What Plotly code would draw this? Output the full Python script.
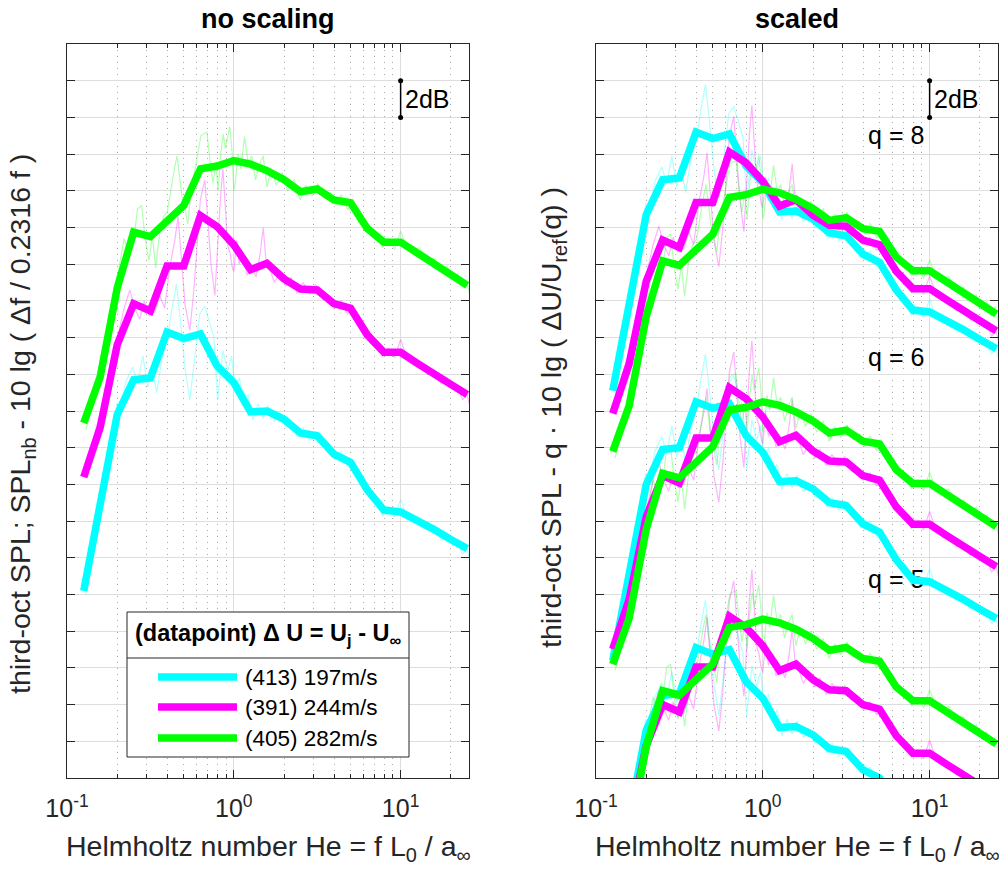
import numpy as np
import plotly.graph_objects as go

W, H = 999, 873

# ---------------- data ----------------
# third-octave band centres (Helmholtz number)
he_oct = [0.126, 0.158, 0.2, 0.251, 0.316, 0.398, 0.501, 0.631, 0.794, 1.0, 1.26, 1.58,
          2.0, 2.51, 3.16, 3.98, 5.01, 6.31, 7.94, 10.0, 12.6, 15.8, 20.0, 25.1]

# third-octave SPL per datapoint [dB, relative]
oct_413 = [10.2, 15.0, 19.8, 21.7, 21.8, 24.3, 23.95, 24.2, 22.45, 21.55, 19.95, 20.0,
           19.55, 18.8, 18.65, 17.65, 17.2, 15.7, 14.6, 14.5, 14.05, 13.55, 13.0, 12.5]
oct_391 = [16.4, 19.1, 23.6, 25.85, 25.45, 27.9, 27.9, 30.65, 30.05, 29.05, 27.7, 28.05,
           27.2, 26.65, 26.6, 25.85, 25.6, 24.15, 23.2, 23.2, 22.6, 22.0, 21.45, 20.9]
oct_405 = [19.35, 21.85, 26.7, 29.75, 29.5, 30.4, 31.2, 33.2, 33.35, 33.65, 33.45, 33.1,
           32.6, 31.95, 32.1, 31.5, 31.35, 29.95, 29.2, 29.2, 28.6, 28.05, 27.45, 26.85]

# normalised narrow-band spectra
nb_he_413 = [0.13, 0.145, 0.16, 0.175, 0.19, 0.198, 0.21, 0.225, 0.248, 0.265, 0.285, 0.305,
             0.325, 0.345, 0.37, 0.40, 0.425, 0.453, 0.48, 0.51, 0.545, 0.58, 0.625, 0.67,
             0.71, 0.76, 0.80, 0.86, 0.92, 0.97, 1.02, 1.08, 1.15, 1.22, 1.3, 1.4, 1.5, 1.6,
             1.75, 1.9, 2.05, 2.2, 2.4, 2.6, 2.85, 3.1, 3.4, 3.7, 4.0, 4.4, 4.8, 5.2, 5.6,
             6.1, 6.6, 7.2, 7.8, 8.5, 9.2, 10.0, 10.8, 11.8, 13.0, 14.5, 16.0, 17.5, 19.0,
             20.5, 22.0, 23.5, 25.0, 26.0]
nb_413 = [10.0, 12.8, 15.4, 17.5, 19.0, 20.4, 20.0, 21.6, 22.4, 21.5, 23.0, 21.3,
          22.2, 21.0, 22.8, 24.0, 25.5, 26.9, 24.8, 22.3, 20.6, 22.8, 25.3, 25.7,
          24.9, 24.0, 20.6, 23.3, 22.2, 23.0, 21.1, 21.8, 20.5, 20.9, 19.5, 20.4, 19.6, 20.3,
          19.4, 19.9, 19.1, 19.5, 18.6, 19.1, 18.4, 18.9, 18.1, 18.2, 17.4, 17.8, 17.0, 17.1, 16.2,
          16.0, 15.2, 15.1, 14.3, 14.7, 14.2, 15.2, 14.3, 14.0, 14.1, 13.5, 13.6, 13.0, 13.3,
          12.7, 12.9, 12.2, 12.5, 11.9]

nb_he_391 = [0.13, 0.145, 0.16, 0.175, 0.19, 0.205, 0.22, 0.238, 0.255, 0.273, 0.29, 0.31,
             0.336, 0.36, 0.385, 0.414, 0.443, 0.463, 0.49, 0.51, 0.545, 0.575, 0.6, 0.63,
             0.67, 0.70, 0.73, 0.77, 0.80, 0.83, 0.86, 0.89, 0.92, 0.95, 0.98, 1.0, 1.04,
             1.08, 1.13, 1.2, 1.28, 1.36, 1.44, 1.5, 1.56, 1.65, 1.75, 1.9, 2.05, 2.2, 2.4,
             2.6, 2.85, 3.1, 3.4, 3.7, 4.0, 4.4, 4.8, 5.2, 5.6, 6.1, 6.6, 7.2, 7.8, 8.5, 9.2,
             10.0, 10.8, 11.8, 13.0, 14.5, 16.0, 17.5, 19.0, 20.5, 22.0, 23.5, 25.0, 26.0]
nb_391 = [16.8, 18.6, 20.0, 21.6, 23.0, 24.4, 25.6, 26.6, 25.6, 25.0, 26.0, 25.2,
          25.4, 26.3, 25.6, 27.9, 29.3, 30.6, 27.5, 25.8, 24.4, 26.5, 28.8, 31.5,
          32.6, 30.5, 28.0, 26.3, 29.0, 31.5, 33.2, 31.0, 29.0, 28.6, 27.8, 27.6, 29.3,
          28.0, 28.6, 27.4, 27.9, 27.3, 28.6, 30.0, 28.2, 27.7, 27.0, 27.6, 26.8, 27.3, 26.4,
          27.0, 26.4, 26.9, 26.1, 26.3, 25.6, 26.0, 25.3, 25.5, 24.6, 24.5, 23.7, 23.8, 23.0, 23.4, 22.9,
          23.9, 23.0, 22.6, 22.7, 22.0, 22.1, 21.5, 21.8, 21.2, 21.4, 20.6, 20.9, 20.3]

nb_he_405 = [0.13, 0.145, 0.16, 0.175, 0.19, 0.205, 0.22, 0.235, 0.25, 0.265, 0.28, 0.295,
             0.31, 0.325, 0.34, 0.36, 0.38, 0.40, 0.42, 0.44, 0.457, 0.475, 0.49, 0.508,
             0.53, 0.55, 0.58, 0.61, 0.635, 0.655, 0.69, 0.72, 0.75, 0.78, 0.805, 0.835,
             0.863, 0.89, 0.92, 0.946, 0.975, 1.0, 1.02, 1.06, 1.1, 1.16, 1.22, 1.28, 1.35,
             1.42, 1.5, 1.58, 1.68, 1.8, 1.95, 2.1, 2.3, 2.5, 2.7, 2.95, 3.2, 3.5, 3.8, 4.1,
             4.4, 4.8, 5.2, 5.6, 6.1, 6.6, 7.2, 7.8, 8.5, 9.2, 10.0, 10.8, 11.8, 13.0, 14.5,
             16.0, 17.5, 19.0, 20.5, 22.0, 23.5, 25.0, 26.0]
nb_405 = [19.0, 20.6, 22.3, 24.6, 26.5, 27.8, 29.4, 28.6, 29.2, 31.0, 31.2, 29.3,
          28.2, 29.5, 27.8, 29.8, 30.6, 30.9, 32.2, 33.2, 33.9, 32.5, 31.6, 31.1,
          30.2, 31.8, 33.0, 34.2, 35.0, 35.1, 35.2, 33.6, 32.4, 33.5, 32.0, 34.0,
          35.1, 34.3, 35.0, 35.5, 34.2, 32.0, 32.4, 34.0, 33.2, 34.95, 33.5, 33.9, 32.6,
          33.4, 33.9, 32.2, 33.2, 32.3, 33.0, 32.0, 32.6, 31.5, 32.3, 31.7, 32.4, 31.6, 31.9, 31.2,
          31.8, 31.0, 31.3, 30.3, 30.5, 29.6, 29.7, 28.9, 29.4, 28.8, 29.8, 29.0, 28.7, 28.9, 28.2,
          28.3, 27.6, 27.9, 27.2, 27.5, 26.8, 27.0, 26.3]

datapoints = ["413", "391", "405"]
delta_u = [197, 244, 282]                      # m/s
legend_labels = ["(413) 197m/s", "(391) 244m/s", "(405) 282m/s"]
q_values = [8, 6, 5]
q_offsets = [10.9, -3.8, -17.2]               # vertical display offset of each q group [dB]

thick_colors = ["#00FFFF", "#FF00FF", "#00FF00"]
thin_colors = ["rgba(0,255,255,0.3)", "rgba(255,0,255,0.3)", "rgba(0,255,0,0.3)"]

oct_spl = [oct_413, oct_391, oct_405]
nb_he = [nb_he_413, nb_he_391, nb_he_405]
nb_spl = [nb_413, nb_391, nb_405]

# ---------------- figure ----------------
fig = go.Figure()
FONT = "Liberation Sans, Arial, Helvetica, sans-serif"
AX = "#262626"


def add_spectra(xa, ya, shift_fn):
    for i in range(3):
        fig.add_trace(go.Scatter(
            x=nb_he[i], y=list(np.array(nb_spl[i]) + shift_fn(i)), mode="lines",
            line=dict(color=thin_colors[i], width=1.2), xaxis=xa, yaxis=ya,
            showlegend=False, hoverinfo="skip"))
    for i in range(3):
        fig.add_trace(go.Scatter(
            x=he_oct, y=list(np.array(oct_spl[i]) + shift_fn(i)), mode="lines",
            line=dict(color=thick_colors[i], width=7.5), xaxis=xa, yaxis=ya,
            showlegend=False, name=legend_labels[i]))


# left: no scaling
add_spectra("x", "y", lambda i: 0.0)

# right: scaled, q labels drawn underneath the curves
q_label_y = [34.9, 22.8, 10.7]
fig.add_trace(go.Scatter(
    x=[9.3] * 3, y=q_label_y, mode="text", text=[f"q = {q}" for q in q_values],
    textposition="middle left", textfont=dict(size=25, color="black", family=FONT),
    xaxis="x2", yaxis="y2", showlegend=False, hoverinfo="skip"))
for q, off in zip(q_values, q_offsets):
    add_spectra("x2", "y2",
                lambda i, q=q, off=off: off - q * 10 * np.log10(delta_u[i] / delta_u[0]))

# 2 dB scale bars
for xa, ya in (("x", "y"), ("x2", "y2")):
    fig.add_trace(go.Scatter(
        x=[10, 10], y=[36, 38], mode="lines+markers",
        line=dict(color="black", width=1.5), marker=dict(color="black", size=5),
        xaxis=xa, yaxis=ya, showlegend=False, hoverinfo="skip"))
    fig.add_annotation(x=1.0, y=37, xref=xa, yref=ya, text="2dB", showarrow=False,
                       xanchor="left", yanchor="middle", xshift=2,
                       font=dict(size=25, color="black", family=FONT))

minor_vals = [0.2, 0.3, 0.4, 0.5, 0.6, 0.7, 0.8, 0.9, 2, 3, 4, 5, 6, 7, 8, 9, 20]
xcommon = dict(
    type="log", range=[-1, np.log10(25.7)], automargin=False,
    tickvals=[0.1, 1, 10], ticktext=["10<sup>-1</sup>", "10<sup>0</sup>", "10<sup>1</sup>"],
    ticks="inside", ticklen=8, tickwidth=1, tickcolor=AX, ticklabelstandoff=8,
    showline=True, linecolor=AX, linewidth=1, mirror="ticks",
    showgrid=True, gridcolor="#dedede", gridwidth=1, zeroline=False,
    tickfont=dict(size=25, color=AX, family=FONT),
    minor=dict(tickvals=minor_vals, ticks="inside", ticklen=4, tickcolor=AX,
               showgrid=True, gridcolor="#a8a8a8", griddash="1px,5px", gridwidth=1),
)
ycommon = dict(
    range=[0, 40], tick0=0, dtick=2, showticklabels=False, automargin=False,
    ticks="inside", ticklen=8, tickwidth=1, tickcolor=AX,
    showline=True, linecolor=AX, linewidth=1, mirror="ticks",
    showgrid=True, gridcolor="#dedede", gridwidth=1, zeroline=False,
)

ybot, ytop = 1 - 778 / H, 1 - 44 / H
fig.update_layout(
    width=W, height=H, margin=dict(l=0, r=0, t=0, b=0, autoexpand=False),
    paper_bgcolor="white", plot_bgcolor="white",
    font=dict(family=FONT, color=AX),
    xaxis=dict(domain=[67 / W, 469 / W], anchor="y", **xcommon),
    yaxis=dict(domain=[ybot, ytop], anchor="x", **ycommon),
    xaxis2=dict(domain=[596 / W, 998 / W], anchor="y2", **xcommon),
    yaxis2=dict(domain=[ybot, ytop], anchor="x2", **ycommon),
    showlegend=False,
)


def note(xp, yp, text, size, color=AX, angle=0, xanchor="center"):
    fig.add_annotation(x=xp / W, y=1 - yp / H, xref="paper", yref="paper", text=text,
                       textangle=angle, xanchor=xanchor, yanchor="middle", showarrow=False,
                       font=dict(size=size, color=color, family=FONT))


# titles and x labels
for cx, t in ((268, "no scaling"), (797, "scaled")):
    note(cx, 19, f"<b>{t}</b>", 27, color="black")
    note(cx, 848, "Helmholtz number He = f L<sub>0</sub> / a<sub>∞</sub>", 28.5)

# y labels
note(22, 424, "third-oct SPL; SPL<sub>nb</sub> - 10 lg ( Δf / 0.2316 f )", 28.5, angle=-90)
note(553, 418, "third-oct SPL - q · 10 lg ( ΔU/U<sub>ref</sub>(q) )", 28.5, angle=-90)


# legend box
def px(xp, yp):
    return xp / W, 1 - yp / H


x0, y0 = px(127, 612)
x1, y1 = px(409, 757)
fig.add_shape(type="rect", xref="paper", yref="paper", x0=x0, y0=y1, x1=x1, y1=y0,
              line=dict(color=AX, width=1), fillcolor="white", layer="above")
_, sy = px(127, 658)
fig.add_shape(type="line", xref="paper", yref="paper", x0=x0, x1=x1, y0=sy, y1=sy,
              line=dict(color=AX, width=1), layer="above")
note(268, 634, "<b>(datapoint) Δ U = U<sub>j</sub> - U<sub>∞</sub></b>", 23.5, color="black")
for i, ly in enumerate([677, 707, 738]):
    lx0, lyy = px(158, ly)
    lx1, _ = px(237, ly)
    fig.add_shape(type="line", xref="paper", yref="paper", x0=lx0, x1=lx1, y0=lyy, y1=lyy,
                  line=dict(color=thick_colors[i], width=7.5), layer="above")
    note(243, ly, legend_labels[i], 22.5, color="black", xanchor="left")

fig.write_html("out.html")
